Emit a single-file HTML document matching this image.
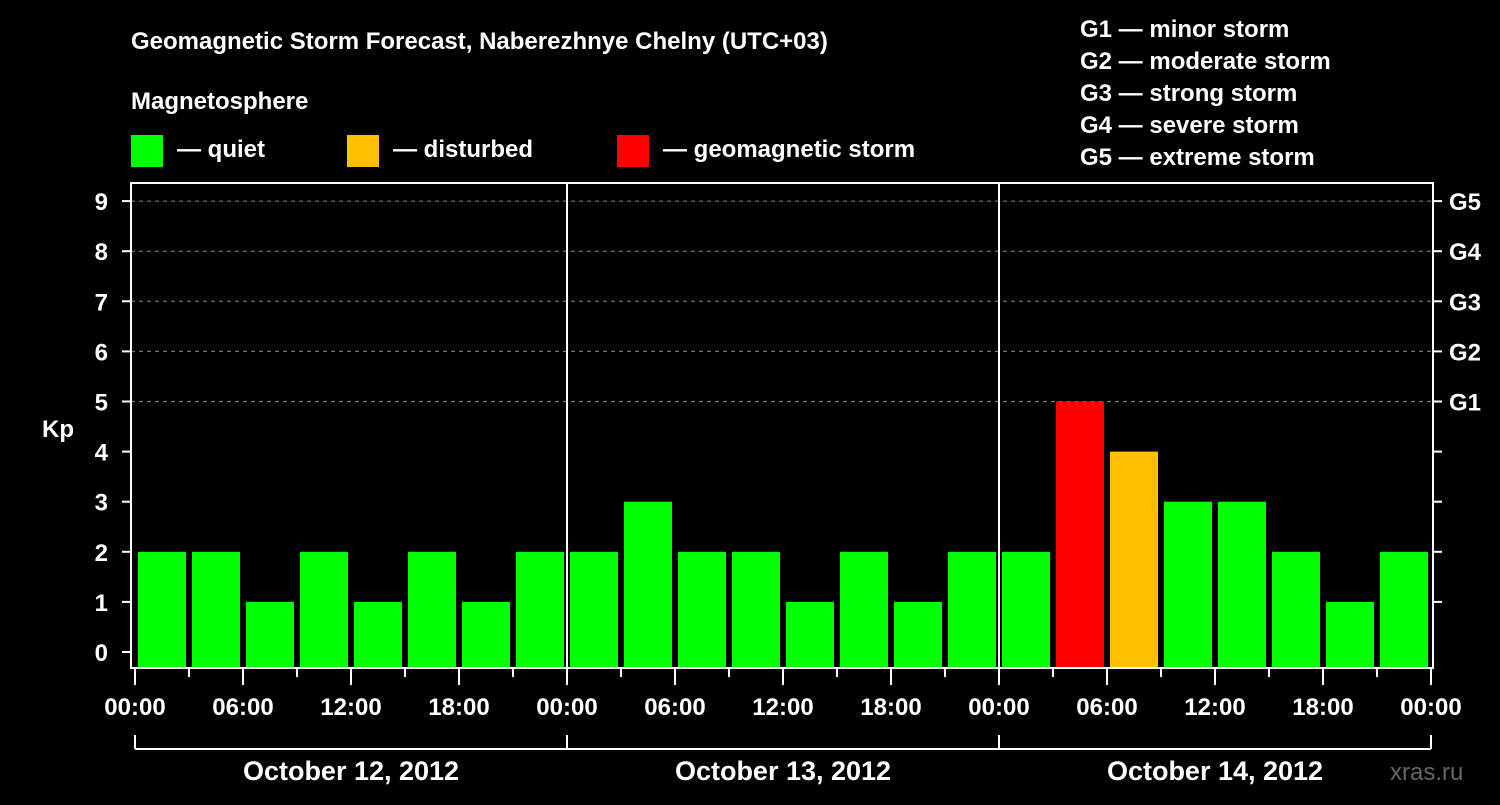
<!DOCTYPE html>
<html><head><meta charset="utf-8"><style>
body{margin:0;background:#000;width:1500px;height:800px;overflow:hidden}
svg text{font-family:"Liberation Sans",Arial,sans-serif;font-weight:bold;fill:#fff}
</style></head><body>
<svg id="c" width="1500" height="800">
<text x="131" y="49" font-size="24">Geomagnetic Storm Forecast, Naberezhnye Chelny (UTC+03)</text>
<text x="131" y="109" font-size="24">Magnetosphere</text>
<g><rect x="131" y="135" width="32" height="32" fill="#00ff00"/><text x="177" y="157" font-size="24">— quiet</text></g>
<g><rect x="347" y="135" width="32" height="32" fill="#ffc000"/><text x="393" y="157" font-size="24">— disturbed</text></g>
<g><rect x="617" y="135" width="32" height="32" fill="#ff0000"/><text x="663" y="157" font-size="24">— geomagnetic storm</text></g>
<g font-size="24">
<text x="1080" y="37">G1 — minor storm</text><text x="1080" y="69">G2 — moderate storm</text><text x="1080" y="101">G3 — strong storm</text><text x="1080" y="133">G4 — severe storm</text><text x="1080" y="165">G5 — extreme storm</text></g>
<text x="42" y="437" font-size="24">Kp</text>
<text x="1390" y="780" font-size="24" style="fill:#666;font-weight:normal">xras.ru</text>
<g id="grid"></g><g id="bars"></g><g id="axes"></g>
</svg>
<script>
const kpValues=[2,2,1,2,1,2,1,2, 2,3,2,2,1,2,1,2, 2,5,4,3,3,2,1,2];
const yTicks=[0,1,2,3,4,5,6,7,8,9];
const gLabels=["G1","G2","G3","G4","G5"];
const timeLabels=["00:00","06:00","12:00","18:00","00:00","06:00","12:00","18:00","00:00","06:00","12:00","18:00","00:00"];
const dayLabels=["October 12, 2012","October 13, 2012","October 14, 2012"];
const NS="http://www.w3.org/2000/svg";
const L=131,R=1433,T=183,B=668,X0=135,HW=18;
const y=v=>652-v*50.1, xh=h=>X0+h*HW;
function mk(p,tag,a){const e=document.createElementNS(NS,tag);for(const k in a)e.setAttribute(k,a[k]);document.getElementById(p).appendChild(e);return e;}
const col=v=>v>=5?"#ff0000":v>=4?"#ffc000":"#00ff00";
kpValues.forEach((v,i)=>{const e=mk("bars","rect",{x:xh(i*3)+3,y:y(v),width:48,height:B-y(v),fill:col(v)});

});
yTicks.forEach(t=>{
 if(t>=5){const g=mk("grid","line",{x1:L,x2:R,y1:y(t),y2:y(t),stroke:"#888","stroke-dasharray":"4,4"});}
 mk("axes","line",{x1:122,x2:L,y1:y(t),y2:y(t),stroke:"#fff","stroke-width":2});
 if(t>=1)mk("axes","line",{x1:R,x2:1442,y1:y(t),y2:y(t),stroke:"#fff","stroke-width":2});
 const e=mk("axes","text",{x:108,y:y(t)+9,"font-size":24,"text-anchor":"end"});e.textContent=t;
 
});
gLabels.forEach((g,i)=>{const e=mk("axes","text",{x:1449,y:y(i+5)+9,"font-size":24});e.textContent=g;
 });
const f=mk("axes","rect",{x:L,y:T,width:R-L,height:B-T,fill:"none",stroke:"#fff","stroke-width":2});

[1,2].forEach(d=>mk("axes","line",{x1:xh(d*24),x2:xh(d*24),y1:T,y2:B,stroke:"#fff","stroke-width":2}));
for(let h=0;h<=72;h+=3){mk("axes","line",{x1:xh(h),x2:xh(h),y1:B,y2:h%6==0?685:677,stroke:"#fff","stroke-width":2});}
timeLabels.forEach((t,i)=>{const e=mk("axes","text",{x:xh(i*6),y:715,"font-size":24,"text-anchor":"middle"});e.textContent=t;
 });
mk("axes","line",{x1:xh(0),x2:xh(72),y1:749,y2:749,stroke:"#fff","stroke-width":2});
for(let d=0;d<=3;d++)mk("axes","line",{x1:xh(d*24),x2:xh(d*24),y1:735,y2:749,stroke:"#fff","stroke-width":2});
dayLabels.forEach((t,i)=>{const e=mk("axes","text",{x:xh(i*24+12),y:780,"font-size":27,"text-anchor":"middle"});e.textContent=t;
 });
</script>
</body></html>
